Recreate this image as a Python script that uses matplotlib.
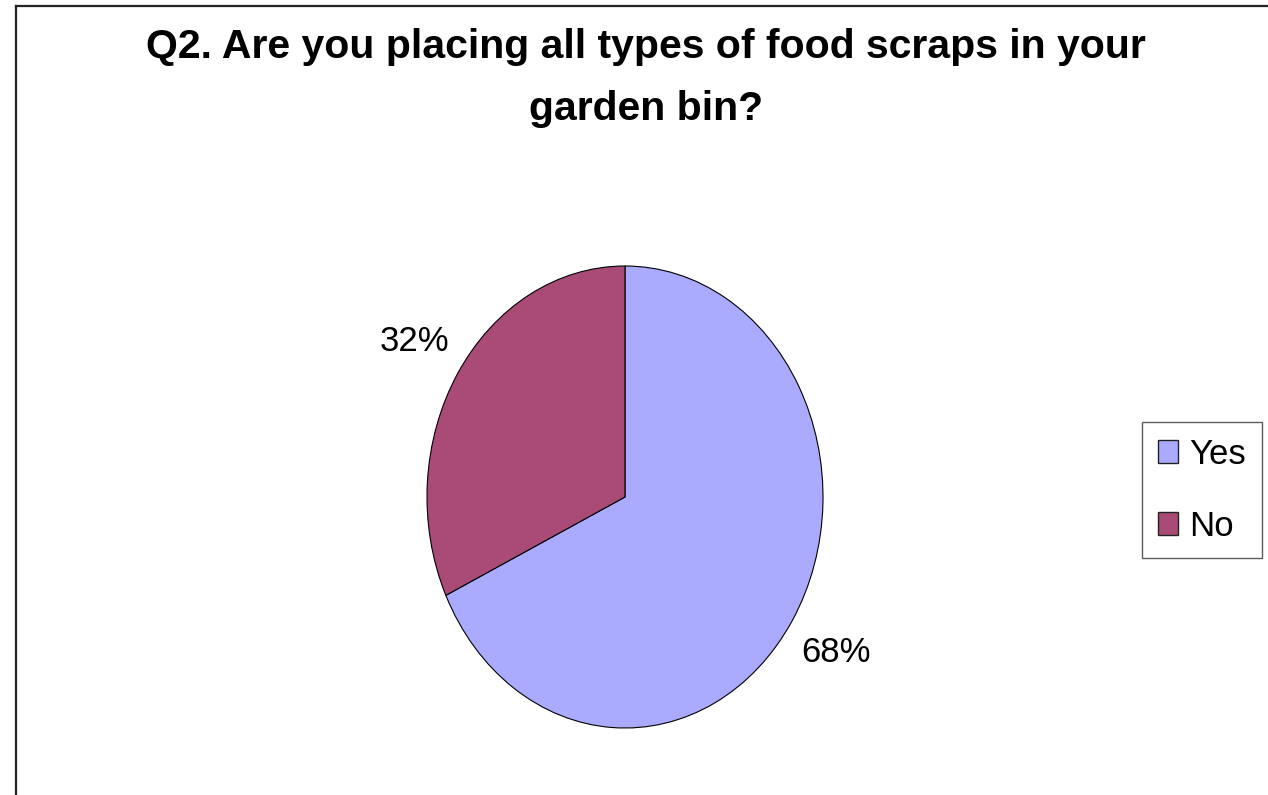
import matplotlib
matplotlib.use("Agg")
import matplotlib.pyplot as plt
from matplotlib.patches import Patch
from matplotlib.lines import Line2D

plt.rcParams['font.family'] = ['Liberation Sans', 'DejaVu Sans']

title = "Q2. Are you placing all types of food scraps in your\ngarden bin?"
categories = ["Yes", "No"]
values = [68, 32]
colors = ["#AAAAFF", "#A94A77"]

W, H = 1268, 795
fig = plt.figure(figsize=(W / 100, H / 100), dpi=100)
fig.patch.set_facecolor("white")

# chart area frame (left and top edges)
fig.add_artist(Line2D([16 / W, 16 / W], [0, 1 - 6 / H], color="#222222", linewidth=1.6))
fig.add_artist(Line2D([16 / W, 1], [1 - 6 / H, 1 - 6 / H], color="#222222", linewidth=1.6))

fig.text(646 / W, 1 - 28 / H, title, ha="center", va="top", fontsize=29.5,
         fontweight="bold", linespacing=1.8)

# pie, drawn into an axes whose box gives the elliptical shape
ax = fig.add_axes([427 / W, (H - 728) / H, 396 / W, 462 / H])
wedges, _, autotexts = ax.pie(
    values, colors=colors, startangle=90, counterclock=False,
    autopct="%.0f%%", pctdistance=1.26,
    wedgeprops=dict(edgecolor="black", linewidth=0.8),
    textprops=dict(fontsize=25),
)
ax.set_aspect("auto")
ax.set_xlim(-1, 1)
ax.set_ylim(-1, 1)

handles = [Patch(facecolor=c, edgecolor="#222222", linewidth=1.0) for c in colors]
leg = fig.legend(handles, categories, loc="upper left",
                 bbox_to_anchor=(1142 / W, 1 - 422 / H),
                 fontsize=25, frameon=True, fancybox=False,
                 handlelength=0.6, handleheight=0.65, handletextpad=0.32,
                 labelspacing=1.12, borderpad=0.45, borderaxespad=0)
leg.get_frame().set_edgecolor("#333333")
leg.get_frame().set_linewidth(1.0)

fig.savefig("out.png", dpi=100, facecolor="white")
